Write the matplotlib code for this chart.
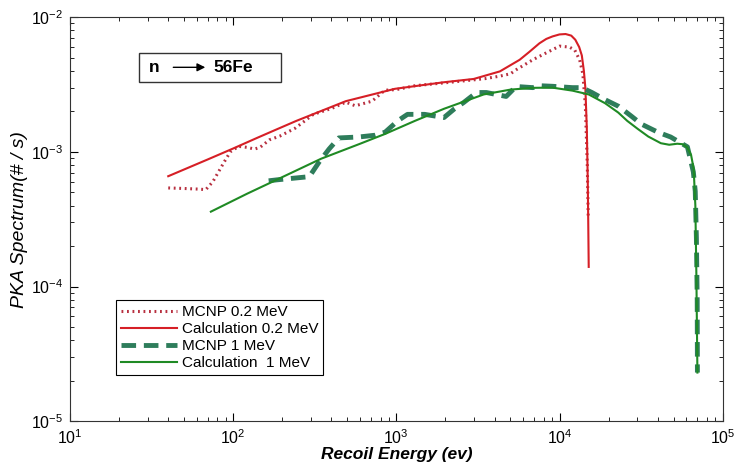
import numpy as np
import matplotlib
matplotlib.use("Agg")
import matplotlib.pyplot as plt
from matplotlib.patches import Rectangle

plt.rcParams['font.family'] = ['Liberation Sans', 'DejaVu Sans']
plt.rcParams['mathtext.fontset'] = 'custom'
plt.rcParams['mathtext.rm'] = 'Liberation Sans'
plt.rcParams['mathtext.it'] = 'Liberation Sans:italic'
plt.rcParams['mathtext.bf'] = 'Liberation Sans:bold'

# MCNP 0.2 MeV (dotted red)
mcnp02_x = [40, 50, 60, 68, 75, 88, 96, 108, 122, 135, 146, 167, 193, 240, 310, 400, 490, 560,
            710, 850, 1000, 1300, 1700, 2200, 2800, 3500, 4300, 5000, 5420, 6860, 8200, 10000,
            11500, 12400, 13300, 13900, 14400, 14800, 15000]
mcnp02_y = [5.4e-4, 5.35e-4, 5.3e-4, 5.25e-4, 6.0e-4, 8.4e-4, 1.0e-3, 1.1e-3, 1.08e-3, 1.05e-3,
            1.08e-3, 1.23e-3, 1.31e-3, 1.5e-3, 1.9e-3, 2.1e-3, 2.34e-3, 2.2e-3, 2.38e-3, 2.87e-3,
            2.9e-3, 3.1e-3, 3.2e-3, 3.3e-3, 3.4e-3, 3.5e-3, 3.65e-3, 3.8e-3, 4.07e-3, 4.83e-3,
            5.4e-3, 6.1e-3, 6.0e-3, 5.7e-3, 4.8e-3, 3.8e-3, 2.2e-3, 8e-4, 3.2e-4]

# Calculation 0.2 MeV (solid red)
calc02_x = [40, 70, 100, 140, 180, 244, 490, 980, 1960, 2980, 4310, 5700, 6500, 7530, 8300, 9060,
            10000, 10900, 11800, 12500, 13200, 13700, 14100, 14400, 14700, 14900, 15000, 15100]
calc02_y = [6.6e-4, 8.8e-4, 1.06e-3, 1.27e-3, 1.45e-3, 1.7e-3, 2.38e-3, 2.94e-3, 3.29e-3, 3.48e-3,
            3.96e-3, 4.83e-3, 5.5e-3, 6.4e-3, 6.9e-3, 7.2e-3, 7.45e-3, 7.5e-3, 7.3e-3, 6.8e-3,
            6.0e-3, 5.2e-3, 4.0e-3, 3.0e-3, 1.5e-3, 6e-4, 3e-4, 1.4e-4]

# MCNP 1 MeV (dashed green)
mcnp1_x = [165, 185, 293, 336, 387, 444, 587, 742, 853, 1020, 1170, 1490, 1960, 2250, 2590, 3100,
           3560, 4710, 5420, 6860, 7560, 9060, 12000, 13700, 15800, 18900, 23000, 27600, 31700,
           40100, 48000, 60800, 66100, 67900, 69000, 69800, 70000]
mcnp1_y = [6.1e-4, 6.2e-4, 6.55e-4, 8.4e-4, 1.05e-3, 1.27e-3, 1.29e-3, 1.33e-3, 1.40e-3, 1.7e-3,
           1.9e-3, 1.9e-3, 1.8e-3, 2.07e-3, 2.33e-3, 2.76e-3, 2.76e-3, 2.58e-3, 3.06e-3, 3.0e-3,
           3.1e-3, 3.07e-3, 3.0e-3, 3.0e-3, 2.76e-3, 2.45e-3, 2.18e-3, 1.84e-3, 1.61e-3, 1.40e-3,
           1.29e-3, 1.09e-3, 7.1e-4, 5.1e-4, 2.3e-4, 8e-5, 2.3e-5]

# Calculation 1 MeV (solid green)
calc1_x = [73, 122, 200, 346, 600, 853, 1300, 1960, 3430, 5000, 6870, 9060, 12000, 15100, 19000,
           22900, 26000, 30200, 35000, 41800, 47000, 52700, 57000, 60600, 64000, 66400, 68000,
           69000, 70000]
calc1_y = [3.6e-4, 4.9e-4, 6.5e-4, 8.9e-4, 1.15e-3, 1.36e-3, 1.7e-3, 2.09e-3, 2.67e-3, 2.9e-3,
           2.99e-3, 3.0e-3, 2.85e-3, 2.67e-3, 2.3e-3, 1.96e-3, 1.7e-3, 1.48e-3, 1.3e-3, 1.16e-3,
           1.13e-3, 1.15e-3, 1.14e-3, 1.08e-3, 9.5e-4, 7.5e-4, 4.0e-4, 1.2e-4, 2.3e-5]

fig = plt.figure(figsize=(7.4, 4.65), dpi=100)
ax = fig.add_axes([0.0946, 0.094, 0.882, 0.869])

ax.loglog(mcnp02_x, mcnp02_y, color='#b83040', lw=2.2, linestyle=(0, (0.6, 1.2)),
          label='MCNP 0.2 MeV')
ax.loglog(calc02_x, calc02_y, color='#d61f26', lw=1.5, label='Calculation 0.2 MeV')
ax.loglog(mcnp1_x, mcnp1_y, color='#2e7d5b', lw=3.5, linestyle=(0, (3, 1.6)),
          label='MCNP 1 MeV')
ax.loglog(calc1_x, calc1_y, color='#1f8a24', lw=1.5, label='Calculation  1 MeV')

ax.set_xlim(10, 1e5)
ax.set_ylim(1e-5, 1e-2)
ax.tick_params(which='both', direction='in', top=True, right=True, labelsize=11.5)
ax.tick_params(which='major', length=6, pad=5)
ax.tick_params(which='minor', length=3)
for s in ax.spines.values():
    s.set_linewidth(0.8)
    s.set_color('#333333')

ax.set_xlabel('Recoil Energy (ev)', fontsize=12.5, fontweight='bold', style='italic', labelpad=0)
ax.set_ylabel('PKA Spectrum(# / s)', fontsize=14, style='italic', labelpad=2)

leg = ax.legend(loc='lower left', bbox_to_anchor=(0.071, 0.115), borderaxespad=0,
                fontsize=11, handlelength=3.7, handletextpad=0.3, labelspacing=0.2,
                borderpad=0.3, fancybox=False, framealpha=1, edgecolor='black')
leg.get_frame().set_linewidth(0.8)

# reaction box
ax.add_patch(Rectangle((0.106, 0.839), 0.217, 0.0735, transform=ax.transAxes,
                       fill=False, edgecolor='#333333', lw=1))
ax.text(0.121, 0.876, 'n', transform=ax.transAxes, fontsize=12.5, fontweight='bold',
        va='center', ha='left')
ax.annotate('', xy=(0.2115, 0.876), xytext=(0.154, 0.876), xycoords='axes fraction',
            arrowprops=dict(arrowstyle='-|>', color='black', lw=1, mutation_scale=12))
ax.text(0.219, 0.876, '56Fe', transform=ax.transAxes, fontsize=12.5, fontweight='bold',
        va='center', ha='left')

fig.savefig('out.png', dpi=100)
